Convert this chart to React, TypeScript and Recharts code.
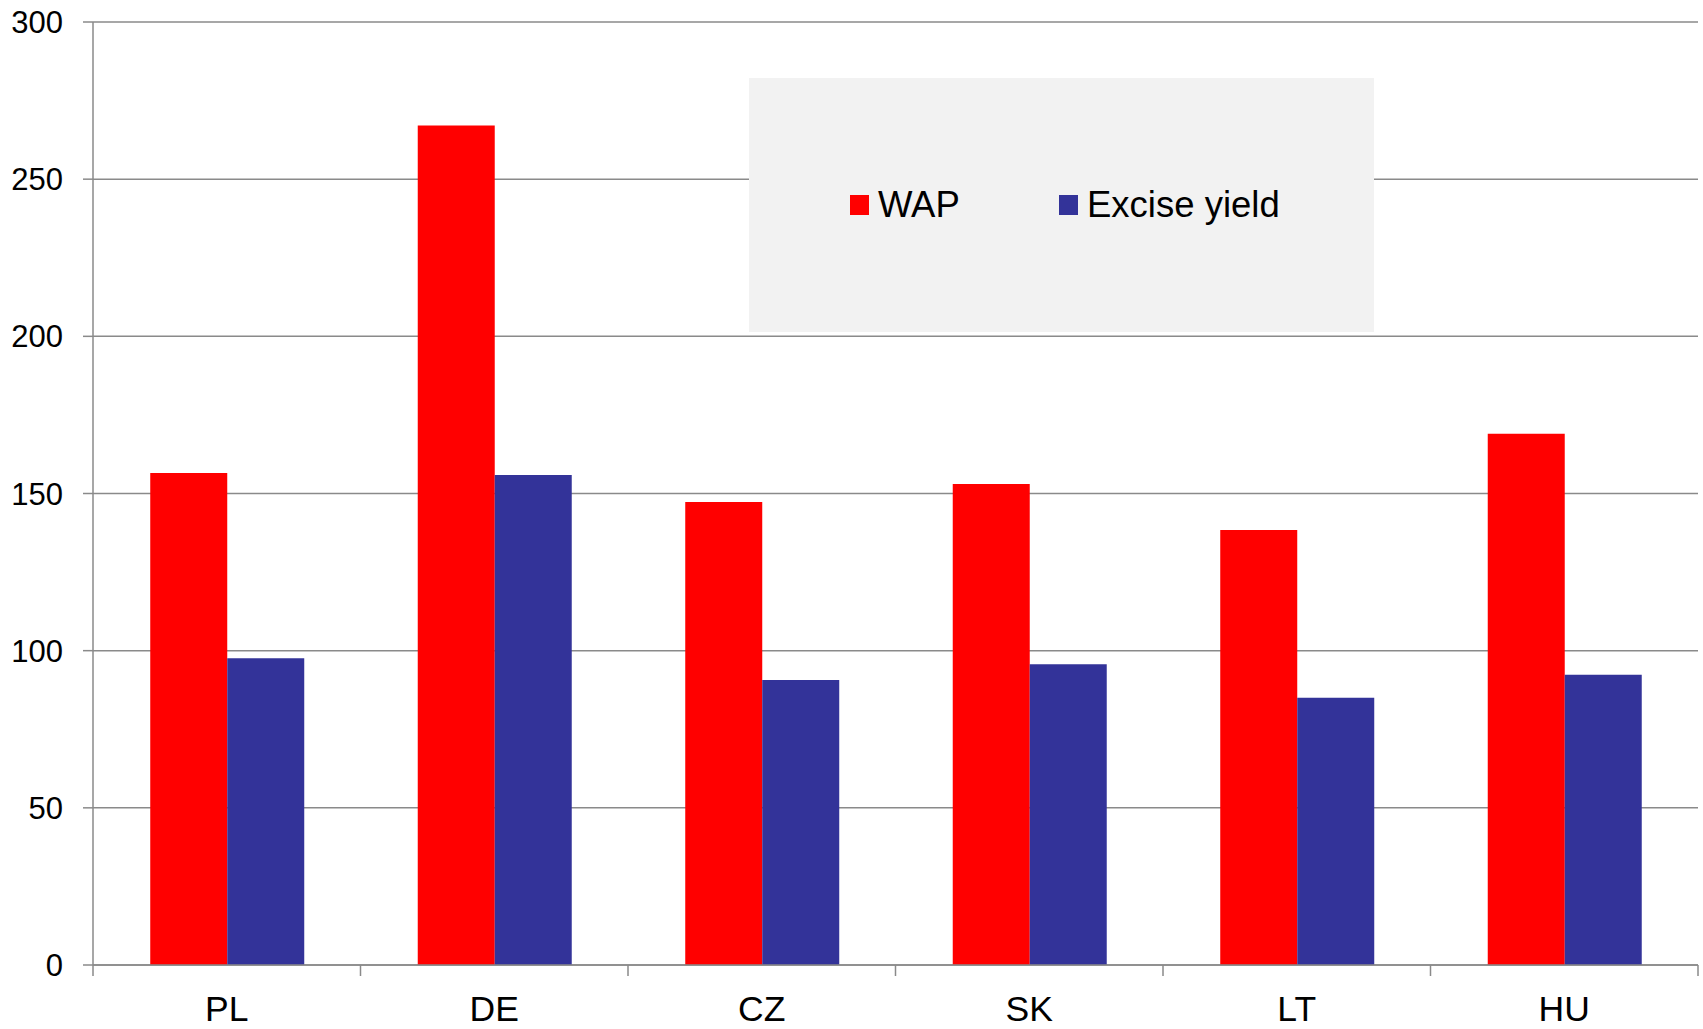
import React from "react";
import { BarChart, Bar, XAxis, YAxis, CartesianGrid, Legend } from "recharts";

const categories = ["PL", "DE", "CZ", "SK", "LT", "HU"];
const wapValues = [156.5, 267.1, 147.3, 153.0, 138.4, 169.0];
const exciseValues = [97.6, 155.9, 90.7, 95.7, 85.0, 92.3];
const yTicks = [0, 50, 100, 150, 200, 250, 300];
const seriesOrder = ["wap", "excise"];

const data = categories.map((name, i) => ({
  name,
  wap: wapValues[i],
  excise: exciseValues[i],
}));

const axisGray = "#8a8a8a";
const font = "'Liberation Sans', Arial, sans-serif";

// category labels, with tick marks on the band edges instead of the centers
function CategoryTick(props: any) {
  const { x, y, payload, index, visibleTicksCount } = props;
  const half = payload?.offset ?? 0;
  const isLast = index === visibleTicksCount - 1;
  return (
    <g>
      <line x1={x - half} x2={x - half} y1={y} y2={y + 11} stroke={axisGray} strokeWidth={1.5} />
      {isLast && <line x1={x + half} x2={x + half} y1={y} y2={y + 11} stroke={axisGray} strokeWidth={1.5} />}
      <text x={x} y={y + 55.5} textAnchor="middle" fontSize={35.5} fontFamily={font} fill="#000">
        {payload.value}
      </text>
    </g>
  );
}

function LegendBox(props: any) {
  const items = [...(props.payload || [])].sort(
    (a: any, b: any) => seriesOrder.indexOf(a.dataKey) - seriesOrder.indexOf(b.dataKey)
  );
  const lefts = [101, 310];
  return (
    <div style={{ position: "relative", width: 625, height: 254, background: "#f2f2f2" }}>
      {items.map((item: any, i: number) => (
        <div
          key={item.value}
          style={{ position: "absolute", left: lefts[i], top: 0, height: 254, display: "flex", alignItems: "center", whiteSpace: "nowrap" }}
        >
          <span style={{ display: "inline-block", width: 19, height: 20, background: item.color, marginRight: 9 }} />
          <span style={{ fontFamily: font, fontSize: 36.5, color: "#000", lineHeight: 1 }}>{item.value}</span>
        </div>
      ))}
    </div>
  );
}

export default function App() {
  return (
    <div style={{ position: "absolute", left: 0, top: 0, width: 1703, height: 1029, background: "#fff" }}>
      <BarChart
        width={1703}
        height={1029}
        data={data}
        margin={{ top: 22, right: 5, bottom: 0, left: 0 }}
        barCategoryGap="21.4%"
        barGap={0}
      >
        <CartesianGrid vertical={false} stroke={axisGray} strokeWidth={1.5} />
        <XAxis
          dataKey="name"
          height={64}
          tickSize={0}
          tickMargin={0}
          tickLine={false}
          axisLine={{ stroke: axisGray, strokeWidth: 1.5 }}
          tick={<CategoryTick />}
          interval={0}
        />
        <YAxis
          width={93}
          domain={[0, 300]}
          ticks={yTicks}
          interval={0}
          tickSize={10}
          tickMargin={20}
          tickLine={{ stroke: axisGray, strokeWidth: 1.5 }}
          axisLine={{ stroke: axisGray, strokeWidth: 1.5 }}
          tick={{ fontSize: 31, fontFamily: font, fill: "#000" }}
        />
        <Legend
          layout="horizontal"
          verticalAlign="middle"
          align="center"
          content={<LegendBox />}
          wrapperStyle={{ left: 749, top: 78, width: 625, height: 254 }}
        />
        <Bar dataKey="wap" name="WAP" fill="#ff0000" isAnimationActive={false} />
        <Bar dataKey="excise" name="Excise yield" fill="#333399" isAnimationActive={false} />
      </BarChart>
    </div>
  );
}
